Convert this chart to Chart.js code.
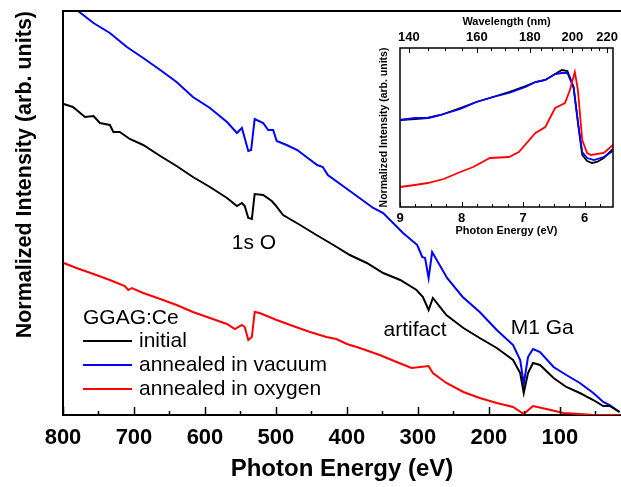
<!DOCTYPE html>
<html>
<head>
<meta charset="utf-8">
<script src="https://cdn.jsdelivr.net/npm/chart.js@4.4.1/dist/chart.umd.min.js"></script>
<style>
  html, body { margin: 0; padding: 0; background: #fff; }
  #wrap { position: relative; width: 621px; height: 487px; }
  #main { position: absolute; left: 0; top: 0; }
  #inset { position: absolute; left: 370px; top: 8px; }
</style>
</head>
<body>
<div id="wrap">
  <canvas id="main" width="621" height="487"></canvas>
  <canvas id="inset" width="251" height="235"></canvas>
</div>
<script>
"use strict";
const FONT = "'Liberation Sans', Arial, Helvetica, sans-serif";

// ---- main spectra (photon energy eV -> normalized intensity, arb.) ----
const initialE = [799, 786, 769, 757, 748, 734, 729, 720, 706, 687, 663, 640, 617, 593, 569, 555, 548, 544, 539, 534, 530, 518, 506, 501, 490, 466, 443, 419, 396, 372, 349, 325, 302, 293, 285, 279, 260, 236, 213, 189, 166, 156, 151, 145, 138, 128, 109, 91, 72, 53, 39, 30, 16];
const initialI = [311, 308, 298, 299, 292, 290, 283, 283, 276, 270, 259, 249, 238, 228, 217, 209, 212, 209, 197, 196, 221, 220, 214, 210, 200, 190, 180, 170, 160, 152, 142, 135, 125, 118, 105, 117, 100, 87, 77, 67, 55, 42, 22, 42, 52, 50, 37, 28, 22, 15, 9, 9, 3];

const vacuumE = [795, 777, 757, 734, 710, 687, 663, 640, 617, 593, 569, 555, 548, 539, 535, 530, 518, 511, 504, 499, 485, 470, 442, 434, 427, 392, 363, 349, 321, 301, 294, 290, 285, 280, 259, 237, 213, 189, 166, 156, 151, 145, 138, 128, 109, 91, 72, 53, 39, 30, 16];
const vacuumI = [414, 403, 392, 382, 368, 357, 345, 333, 318, 307, 293, 282, 287, 264, 265, 296, 292, 285, 285, 274, 270, 265, 250, 248, 240, 222, 207, 202, 182, 170, 158, 157, 137, 163, 137, 118, 103, 85, 70, 55, 31, 58, 66, 63, 48, 40, 32, 22, 13, 10, 3];

const oxygenE = [799, 781, 757, 734, 713, 708, 703, 687, 663, 640, 617, 593, 569, 558, 548, 544, 539, 534, 530, 523, 499, 476, 452, 429, 415, 400, 382, 354, 330, 309, 285, 279, 260, 236, 213, 189, 166, 151, 138, 119, 95, 72, 53, 16];
const oxygenI = [152, 147, 141, 135, 129, 125, 127, 122, 116, 110, 103, 97, 91, 86, 90, 88, 75, 78, 103, 102, 95, 89, 83, 78, 76, 71, 67, 60, 53, 47, 49, 42, 32, 23, 17, 12, 8, 1, 9, 6, 2, 1, 0, 0];

const xTicks = [800, 750, 700, 650, 600, 550, 500, 450, 400, 350, 300, 250, 200, 150, 100, 50];

// ---- inset (band edge region) ----
const insInitialE = [9.0, 8.76, 8.55, 8.34, 8.02, 7.76, 7.49, 7.23, 6.96, 6.80, 6.64, 6.48, 6.37, 6.28, 6.18, 6.10, 6.04, 5.96, 5.88, 5.80, 5.69, 5.54];
const insInitialI = [87, 88, 89, 92, 99, 105, 110, 115, 121, 125, 127, 133, 137, 136, 120, 80, 52, 46, 44, 45, 49, 58];
const insVacuumE = [9.0, 8.76, 8.55, 8.34, 8.02, 7.76, 7.49, 7.23, 6.96, 6.80, 6.64, 6.48, 6.37, 6.28, 6.18, 6.10, 6.04, 5.96, 5.85, 5.69, 5.54];
const insVacuumI = [87, 89, 89, 92, 98, 105, 110, 114, 120, 125, 127, 133, 134, 134, 119, 80, 55, 49, 47, 50, 56];
const insOxygenE = [9.0, 8.76, 8.55, 8.29, 8.02, 7.81, 7.54, 7.23, 7.07, 6.80, 6.64, 6.48, 6.32, 6.24, 6.16, 6.11, 6.04, 5.96, 5.90, 5.69, 5.54];
const insOxygenI = [20, 22, 24, 28, 35, 40, 49, 50, 55, 74, 80, 99, 104, 117, 135, 117, 67, 54, 52, 54, 62];

const insETicks = [9, 8.75, 8.5, 8.25, 8, 7.75, 7.5, 7.25, 7, 6.75, 6.5, 6.25, 6, 5.75];
const nmTicks = [140, 145, 150, 155, 160, 165, 170, 175, 180, 185, 190, 195, 200, 205, 210, 215, 220];

const seriesNames = ["initial", "annealed in vacuum", "annealed in oxygen"];
const seriesColors = ["#000000", "#0000ff", "#ff0000"];
const sampleName = "GGAG:Ce";

function pts(xs, ys) { return xs.map((x, i) => ({ x: x, y: ys[i] })); }
function f(size, weight) { return { family: FONT, size: size, weight: weight || "normal" }; }

// frame + inward tick marks, drawn by hand
function framePlugin(id) {
  return {
    id: id,
    beforeDatasetsDraw(chart, args, o) {
      if (!o.fill) return;
      const a = chart.chartArea, ctx = chart.ctx;
      ctx.save(); ctx.fillStyle = "#fff"; ctx.fillRect(a.left, a.top, a.right - a.left, a.bottom - a.top); ctx.restore();
    },
    afterDraw(chart, args, o) {
      const a = chart.chartArea, ctx = chart.ctx;
      ctx.save();
      ctx.strokeStyle = "#000"; ctx.lineWidth = o.lw;
      if (o.box) ctx.strokeRect(a.left, a.top, a.right - a.left, a.bottom - a.top);
      else { ctx.beginPath(); ctx.moveTo(a.left, a.top); ctx.lineTo(a.right, a.top); ctx.stroke(); }
      ctx.lineWidth = o.tw;
      (o.axes || []).forEach(ax => {
        const s = chart.scales[ax.id];
        s.ticks.forEach(t => {
          const px = Math.round(s.getPixelForValue(t.value)) + 0.5;
          const len = t.label !== "" && t.label != null ? ax.major : ax.minor;
          ctx.beginPath();
          if (ax.side === "bottom") { ctx.moveTo(px, a.bottom); ctx.lineTo(px, a.bottom - len); }
          else { ctx.moveTo(px, a.top); ctx.lineTo(px, a.top + len); }
          ctx.stroke();
        });
      });
      ctx.restore();
    }
  };
}

const notes = [
  { text: "1s O", e: 531, v: 172 },
  { text: "artifact", e: 304, v: 85 },
  { text: "M1 Ga", e: 125, v: 87 }
];

const notesPlugin = {
  id: "notes",
  afterDatasetsDraw(chart) {
    const ctx = chart.ctx, xs = chart.scales.x, ys = chart.scales.y, a = chart.chartArea;
    ctx.save();
    ctx.fillStyle = "#000"; ctx.font = "21px " + FONT;
    ctx.textAlign = "center"; ctx.textBaseline = "middle";
    notes.forEach(n => ctx.fillText(n.text, xs.getPixelForValue(n.e), ys.getPixelForValue(n.v)));
    // legend
    ctx.textAlign = "left";
    ctx.fillText(sampleName, a.left + 20, a.bottom - 97);
    chart.data.datasets.forEach((d, i) => {
      const y = a.bottom - 74 + i * 24;
      ctx.strokeStyle = d.borderColor; ctx.lineWidth = 2;
      ctx.beginPath(); ctx.moveTo(a.left + 20, y); ctx.lineTo(a.left + 69, y); ctx.stroke();
      ctx.fillText(d.label, a.left + 76, y);
    });
    ctx.restore();
  }
};

new Chart(document.getElementById("main"), {
  type: "line",
  data: {
    datasets: [
      { label: seriesNames[0], data: pts(initialE, initialI), borderColor: seriesColors[0] },
      { label: seriesNames[1], data: pts(vacuumE, vacuumI), borderColor: seriesColors[1] },
      { label: seriesNames[2], data: pts(oxygenE, oxygenI), borderColor: seriesColors[2] }
    ]
  },
  options: {
    responsive: false, animation: false, parsing: false,
    layout: { padding: { top: 11, right: 0, left: 0, bottom: 0 } },
    elements: { point: { radius: 0 }, line: { borderWidth: 2, tension: 0 } },
    plugins: {
      legend: { display: false }, tooltip: { enabled: false },
      mainFrame: { lw: 2, tw: 1.5, box: false, axes: [{ id: "x", side: "bottom", major: 8, minor: 4 }] }
    },
    scales: {
      x: {
        type: "linear", reverse: true, min: 14, max: 800,
        afterBuildTicks: s => { s.ticks = xTicks.map(v => ({ value: v })); },
        afterFit: s => { s.height = 72; },
        grid: { display: false, drawTicks: false },
        border: { color: "#000", width: 2 },
        ticks: { autoSkip: false, maxRotation: 0, padding: 10, color: "#000", font: f(22, "bold"),
                 callback: v => (v % 100 === 0 ? String(v) : "") },
        title: { display: true, text: "Photon Energy (eV)", color: "#000", font: f(24, "bold"), padding: { top: 0, bottom: 3 } }
      },
      y: {
        min: 0, max: 404,
        afterFit: s => { s.width = 63; },
        grid: { display: false, drawTicks: false },
        border: { color: "#000", width: 2 },
        ticks: { display: false },
        title: { display: true, align: "end", text: "Normalized Intensity (arb. units)", color: "#000", font: f(21.5, "bold"), padding: { top: 12, bottom: 0 } }
      }
    }
  },
  plugins: [framePlugin("mainFrame"), notesPlugin]
});

new Chart(document.getElementById("inset"), {
  type: "line",
  data: {
    datasets: [
      { label: seriesNames[0], data: pts(insInitialE, insInitialI), borderColor: seriesColors[0], order: 3 },
      { label: seriesNames[1], data: pts(insVacuumE, insVacuumI), borderColor: seriesColors[1], order: 2 },
      { label: seriesNames[2], data: pts(insOxygenE, insOxygenI), borderColor: seriesColors[2], order: 1 }
    ]
  },
  options: {
    responsive: false, animation: false, parsing: false,
    layout: { padding: { top: 0, right: 3, left: 0, bottom: 0 } },
    elements: { point: { radius: 0 }, line: { borderWidth: 1.8, tension: 0 } },
    plugins: {
      legend: { display: false }, tooltip: { enabled: false },
      insetFrame: { lw: 1.5, tw: 1, box: true, fill: true, axes: [
        { id: "x", side: "bottom", major: 5, minor: 3 },
        { id: "x2", side: "top", major: 5, minor: 3 }] }
    },
    scales: {
      x: {
        type: "linear", position: "bottom", reverse: true, min: 5.54, max: 9,
        afterBuildTicks: s => { s.ticks = insETicks.map(v => ({ value: v })); },
        afterFit: s => { s.height = 36; },
        grid: { display: false, drawTicks: false }, border: { display: false },
        ticks: { autoSkip: false, maxRotation: 0, padding: 4, color: "#000", font: f(13, "bold"),
                 callback: v => (Number.isInteger(v) ? String(v) : "") },
        title: { display: true, text: "Photon Energy (eV)", color: "#000", font: f(11, "bold"), padding: { top: 0, bottom: 5 } }
      },
      x2: {
        type: "linear", position: "top", reverse: true, min: 5.54, max: 9,
        afterBuildTicks: s => { s.ticks = nmTicks.map(nm => ({ value: 1240 / nm })); },
        afterFit: s => { s.height = 40; },
        grid: { display: false, drawTicks: false }, border: { display: false },
        ticks: { autoSkip: false, maxRotation: 0, padding: 3, color: "#000", font: f(13, "bold"),
                 callback: v => { const nm = Math.round(1240 / v); return nm % 20 === 0 ? String(nm) : ""; } },
        title: { display: true, text: "Wavelength (nm)", color: "#000", font: f(11, "bold"), padding: { top: 7, bottom: 0 } }
      },
      y: {
        min: 0, max: 159,
        afterFit: s => { s.width = 30; },
        grid: { display: false, drawTicks: false }, border: { display: false },
        ticks: { display: false },
        title: { display: true, text: "Normalized Intensity (arb. units)", color: "#000", font: f(10.5, "bold"), padding: { top: 8, bottom: 0 } }
      }
    }
  },
  plugins: [framePlugin("insetFrame")]
});
</script>
</body>
</html>
